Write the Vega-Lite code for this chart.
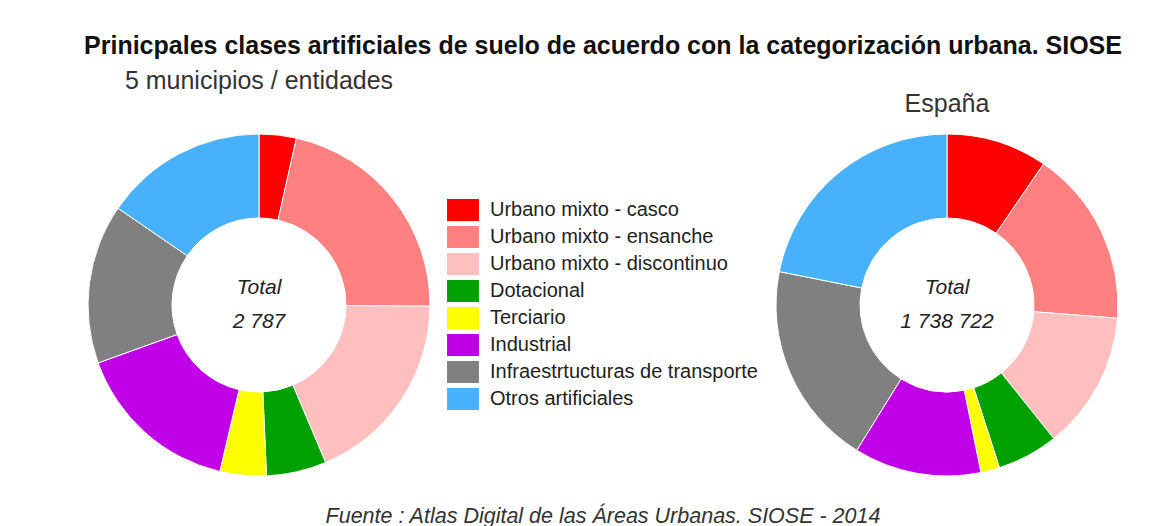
{
  "$schema": "https://vega.github.io/schema/vega-lite/v6.json",
  "background": "#ffffff",
  "padding": {"left": 59, "top": 34, "right": 0, "bottom": 0},
  "config": {
    "font": "Liberation Sans",
    "view": {"stroke": null},
    "title": {"font": "Liberation Sans"}
  },
  "title": {
    "text": "Prinicpales clases artificiales de suelo de acuerdo con la categorización urbana. SIOSE",
    "fontSize": 25,
    "fontWeight": "bold",
    "color": "#111111",
    "anchor": "middle",
    "offset": 10
  },
  "datasets": {
    "suelo": [
      {"region": "5 municipios / entidades", "clase": "Urbano mixto - casco", "orden": 1, "ha": 98},
      {"region": "5 municipios / entidades", "clase": "Urbano mixto - ensanche", "orden": 2, "ha": 602},
      {"region": "5 municipios / entidades", "clase": "Urbano mixto - discontinuo", "orden": 3, "ha": 516},
      {"region": "5 municipios / entidades", "clase": "Dotacional", "orden": 4, "ha": 158},
      {"region": "5 municipios / entidades", "clase": "Terciario", "orden": 5, "ha": 122},
      {"region": "5 municipios / entidades", "clase": "Industrial", "orden": 6, "ha": 441},
      {"region": "5 municipios / entidades", "clase": "Infraestrtucturas de transporte", "orden": 7, "ha": 420},
      {"region": "5 municipios / entidades", "clase": "Otros artificiales", "orden": 8, "ha": 430},
      {"region": "España", "clase": "Urbano mixto - casco", "orden": 1, "ha": 166222},
      {"region": "España", "clase": "Urbano mixto - ensanche", "orden": 2, "ha": 289845},
      {"region": "España", "clase": "Urbano mixto - discontinuo", "orden": 3, "ha": 226555},
      {"region": "España", "clase": "Dotacional", "orden": 4, "ha": 100498},
      {"region": "España", "clase": "Terciario", "orden": 5, "ha": 30949},
      {"region": "España", "clase": "Industrial", "orden": 6, "ha": 209168},
      {"region": "España", "clase": "Infraestrtucturas de transporte", "orden": 7, "ha": 335226},
      {"region": "España", "clase": "Otros artificiales", "orden": 8, "ha": 380259}
    ],
    "totales": [
      {"region": "5 municipios / entidades", "total": "Total\n2 787"},
      {"region": "España", "total": "Total\n1 738 722"}
    ]
  },
  "vconcat": [
    {
      "title": {
        "text": "Fuente : Atlas Digital de las Áreas Urbanas. SIOSE - 2014",
        "orient": "bottom",
        "anchor": "middle",
        "fontSize": 21.5,
        "fontStyle": "italic",
        "fontWeight": "normal",
        "color": "#333333",
        "offset": 21
      },
      "spacing": 288,
      "bounds": "flush",
      "hconcat": [
        {
          "width": 400,
          "height": 360,
          "title": {"text": "5 municipios / entidades", "fontSize": 25, "fontWeight": "normal", "color": "#333333", "anchor": "middle", "offset": 31},
          "layer": [
            {
              "data": {"name": "suelo"},
              "transform": [{"filter": "datum.region === '5 municipios / entidades'"}],
              "mark": {"type": "arc", "radius": 171, "radius2": 87, "stroke": "#ffffff", "strokeWidth": 1},
              "encoding": {
                "theta": {"field": "ha", "type": "quantitative", "stack": true},
                "order": {"field": "orden", "type": "quantitative"},
                "color": {
                  "field": "clase",
                  "type": "nominal",
                  "scale": {
                    "domain": ["Urbano mixto - casco", "Urbano mixto - ensanche", "Urbano mixto - discontinuo", "Dotacional", "Terciario", "Industrial", "Infraestrtucturas de transporte", "Otros artificiales"],
                    "range": ["#ff0000", "#ff8080", "#ffbfbf", "#00a000", "#ffff00", "#c000e6", "#808080", "#47b1fc"]
                  },
                  "legend": {
                    "title": null,
                    "orient": "none",
                    "legendX": 393,
                    "legendY": 74,
                    "padding": 0,
                    "symbolType": "M-1.45,-1H1.45V1H-1.45Z",
                    "symbolSize": 484,
                    "symbolStrokeWidth": 0,
                    "symbolOpacity": 1,
                    "labelFontSize": 20,
                    "labelColor": "#222222",
                    "labelOffset": 16,
                    "rowPadding": 5,
                    "labelLimit": 400
                  }
                }
              }
            },
            {
              "data": {"name": "totales"},
              "transform": [{"filter": "datum.region === '5 municipios / entidades'"}],
              "mark": {"type": "text", "fontSize": 21, "fontStyle": "italic", "lineBreak": "\n", "lineHeight": 34, "baseline": "middle", "align": "center", "dy": -17, "color": "#222222"},
              "encoding": {"text": {"field": "total", "type": "nominal"}}
            }
          ]
        },
        {
          "width": 400,
          "height": 360,
          "title": {"text": "España", "fontSize": 25, "fontWeight": "normal", "color": "#333333", "anchor": "middle", "offset": 8},
          "layer": [
            {
              "data": {"name": "suelo"},
              "transform": [{"filter": "datum.region === 'España'"}],
              "mark": {"type": "arc", "radius": 171, "radius2": 87, "stroke": "#ffffff", "strokeWidth": 1},
              "encoding": {
                "theta": {"field": "ha", "type": "quantitative", "stack": true},
                "order": {"field": "orden", "type": "quantitative"},
                "color": {"field": "clase", "type": "nominal"}
              }
            },
            {
              "data": {"name": "totales"},
              "transform": [{"filter": "datum.region === 'España'"}],
              "mark": {"type": "text", "fontSize": 21, "fontStyle": "italic", "lineBreak": "\n", "lineHeight": 34, "baseline": "middle", "align": "center", "dy": -17, "color": "#222222"},
              "encoding": {"text": {"field": "total", "type": "nominal"}}
            }
          ]
        }
      ]
    }
  ]
}
